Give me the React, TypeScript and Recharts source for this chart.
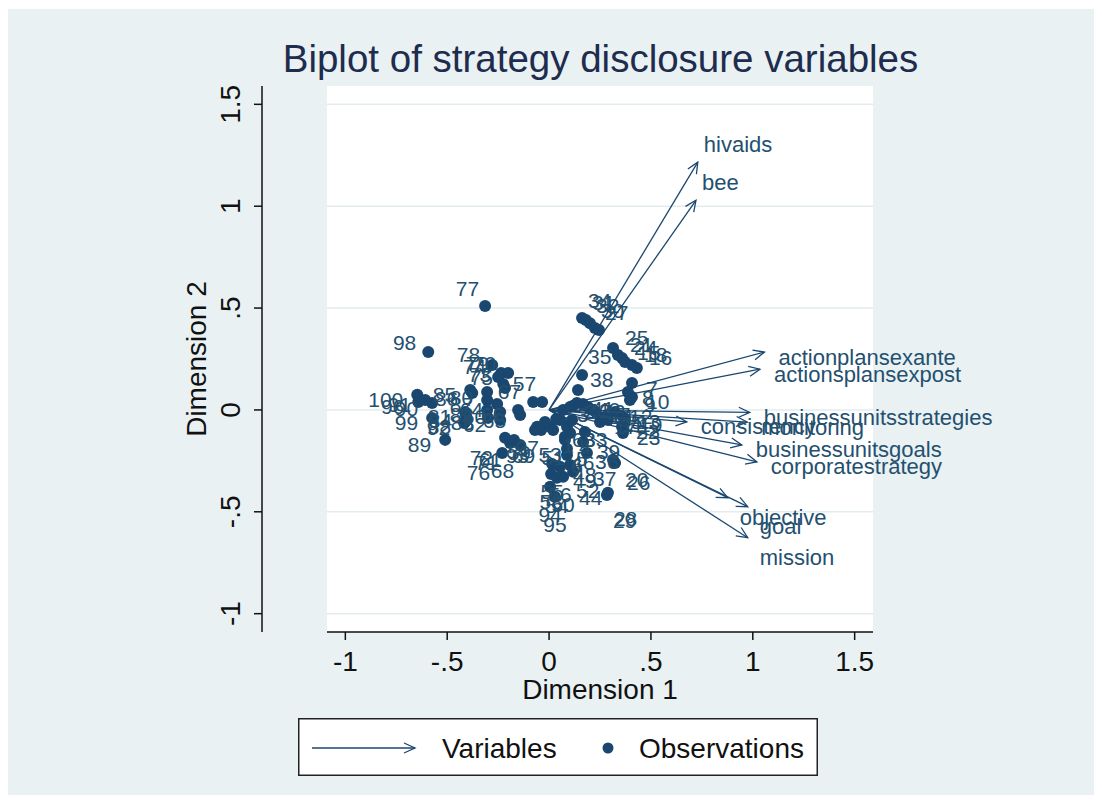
import React from 'react';
import { ScatterChart, Scatter, XAxis, YAxis, CartesianGrid, Legend } from 'recharts';

// ---------- data ----------
const obsLabels = [
  77, 98, 100, 96, 90, 99, 89, 88, 81, 84,
  85, 86, 80, 87, 82, 83, 60, 62, 64, 78,
  70, 74, 79, 75, 73, 66, 65, 67, 57, 72,
  71, 76, 68, 61, 59, 69, 97, 53, 51, 40,
  41, 2, 3, 4, 5, 6, 42, 43, 45, 47,
  33, 39, 36, 37, 46, 48, 49, 55, 56, 52,
  58, 54, 50, 44, 94, 95, 26, 20, 28, 29,
  34, 31, 32, 30, 27, 25, 21, 24, 15, 18,
  16, 35, 38, 7, 8, 9, 10, 13, 19, 22,
  23, 11, 12, 14, 17, 91, 92, 93, 63, 1,
];
const obsDim1 = [
  -0.314, -0.593, -0.647, -0.642, -0.574, -0.574, -0.510, -0.412, -0.412, -0.407,
  -0.387, -0.377, -0.304, -0.304, -0.304, -0.299, -0.240, -0.240, -0.255, -0.279,
  -0.201, -0.250, -0.235, -0.216, -0.225, -0.152, -0.142, -0.078, -0.034, -0.216,
  -0.191, -0.230, -0.142, -0.172, -0.059, -0.039, -0.020, 0.005, 0.020, 0.167,
  0.137, 0.103, 0.069, 0.088, 0.103, 0.078, 0.118, 0.191, 0.275, 0.216,
  0.113, 0.176, 0.167, 0.186, 0.078, 0.088, 0.088, 0.015, 0.054, 0.103,
  0.010, 0.039, 0.069, 0.118, 0.005, 0.029, 0.324, 0.314, 0.289, 0.284,
  0.162, 0.181, 0.201, 0.225, 0.245, 0.314, 0.338, 0.358, 0.373, 0.407,
  0.431, 0.162, 0.142, 0.407, 0.387, 0.397, 0.407, 0.363, 0.373, 0.358,
  0.363, 0.289, 0.324, 0.230, 0.250, -0.608, -0.417, -0.069, 0.054, 0.035,
];
const obsDim2 = [
  0.510, 0.284, 0.074, 0.039, 0.034, -0.039, -0.147, -0.059, -0.010, -0.029,
  0.098, 0.083, 0.088, 0.049, 0.000, -0.039, -0.010, -0.049, 0.029, 0.221,
  0.181, 0.162, 0.181, 0.108, 0.127, 0.000, -0.025, 0.039, 0.039, -0.137,
  -0.162, -0.211, -0.172, -0.147, -0.083, -0.098, -0.059, -0.083, -0.098, 0.029,
  0.034, 0.015, 0.000, -0.083, -0.113, -0.147, 0.020, 0.015, -0.034, 0.000,
  -0.049, -0.108, -0.157, -0.211, -0.132, -0.191, -0.221, -0.265, -0.279, -0.270,
  -0.314, -0.333, -0.328, -0.304, -0.377, -0.426, -0.260, -0.245, -0.407, -0.417,
  0.451, 0.441, 0.426, 0.402, 0.392, 0.304, 0.270, 0.255, 0.235, 0.221,
  0.206, 0.172, 0.098, 0.132, 0.088, 0.049, 0.064, -0.034, -0.049, -0.083,
  -0.113, -0.049, -0.010, -0.010, -0.059, 0.049, -0.064, -0.098, -0.049, -0.045,
];

const varNames = [
  'hivaids', 'bee', 'actionplansexante', 'actionsplansexpost', 'businessunitsstrategies',
  'monitoring', 'consistency', 'businessunitsgoals', 'corporatestrategy',
  'objective', 'goal', 'mission',
];
const varDim1 = [0.730, 0.721, 1.057, 1.035, 0.985, 0.973, 0.676, 0.946, 1.020, 0.877, 0.975, 0.975];
const varDim2 = [1.216, 1.029, 0.284, 0.200, -0.012, -0.060, -0.059, -0.172, -0.255, -0.431, -0.475, -0.627];

const xTicks = [-1, -0.5, 0, 0.5, 1, 1.5];
const yTicks = [-1, -0.5, 0, 0.5, 1, 1.5];
const DOMAIN: [number, number] = [-1.09, 1.59];

const obsData = obsLabels.map((l, i) => ({ x: obsDim1[i], y: obsDim2[i], label: String(l) }));
const varData = varNames.map((n, i) => ({ x: varDim1[i], y: varDim2[i], label: n }));

// ---------- layout / style ----------
const W = 1102;
const H = 803;
const PL = 327, PR = 873, PT = 86, PB = 632;
const YAXW = 60, XAXH = 60;
const KX = (PR - PL) / (DOMAIN[1] - DOMAIN[0]);
const KY = (PB - PT) / (DOMAIN[1] - DOMAIN[0]);
const NAVY = '#1a476f';
const TXT = '#24506f';
const FONT = '"Liberation Sans", Arial, sans-serif';
const BG = '#e9f1f3';

const fmt = (v: number) => {
  if (v === 0) return '0';
  const a = Math.abs(v);
  const s = a < 1 ? String(a).replace(/^0/, '') : String(a);
  return (v < 0 ? '-' : '') + s;
};

// label placement by clock position (direction from the origin)
const OFF: Record<number, [number, number]> = {
  12: [0, -20], 1: [6, -18], 2: [12, -10], 3: [14, 5], 4: [12, 20], 5: [6, 26],
  6: [0, 28], 7: [-6, 26], 8: [-12, 20], 9: [-14, 5], 10: [-12, -10], 11: [-6, -18],
};
const clockOf = (dx: number, dy: number) => {
  const ang = (Math.atan2(dy, dx) * 180) / Math.PI;
  if (Math.abs(ang) <= 22.5) return 3;
  if (Math.abs(ang) >= 157.5) return 9;
  let c = Math.round(3 - ang / 30);
  c = ((c % 12) + 12) % 12;
  return c === 0 ? 12 : c;
};
const makeLabel = (size: number) => ({ cx, cy, payload }: any) => {
  const c = clockOf(payload.x * KX, payload.y * KY);
  const [dx, dy] = OFF[c];
  const anchor = c === 12 || c === 6 ? 'middle' : c < 6 ? 'start' : 'end';
  return (
    <text x={cx + dx} y={cy + dy} textAnchor={anchor} dominantBaseline="central"
      fontFamily={FONT} fontSize={size} fill={TXT}>{payload.label}</text>
  );
};
const ObsLabel = makeLabel(21);
const VarLabel = makeLabel(22);

const ObsMarker = ({ cx, cy }: any) => <circle cx={cx} cy={cy} r={6} fill={NAVY} />;

const ArrowShape = ({ cx, cy, payload }: any) => {
  const ox = cx - payload.x * KX;
  const oy = cy + payload.y * KY;
  const dx = cx - ox, dy = cy - oy;
  const len = Math.sqrt(dx * dx + dy * dy);
  const ux = dx / len, uy = dy / len;
  const L = 11, Wd = 5;
  const b1 = `${cx - L * ux - Wd * uy},${cy - L * uy + Wd * ux}`;
  const b2 = `${cx - L * ux + Wd * uy},${cy - L * uy - Wd * ux}`;
  return (
    <g>
      <line x1={ox} y1={oy} x2={cx} y2={cy} stroke={NAVY} strokeWidth={1.3} />
      <polyline points={`${b1} ${cx},${cy} ${b2}`} fill="none" stroke={NAVY} strokeWidth={1.3} />
    </g>
  );
};

const XTick = ({ x, payload }: any) => (
  <g>
    <line x1={x} y1={PB} x2={x} y2={PB + 8} stroke="#111" strokeWidth={1.5} />
    <text x={x} y={PB + 39} textAnchor="middle" fontFamily={FONT} fontSize={28} fill="#111">{fmt(payload.value)}</text>
  </g>
);
const YAX = 262;
const YTick = ({ y, payload }: any) => (
  <g>
    <line x1={YAX - 8} y1={y} x2={YAX} y2={y} stroke="#111" strokeWidth={1.5} />
    <text x={YAX - 22} y={y} transform={`rotate(-90, ${YAX - 22}, ${y})`} textAnchor="middle"
      fontFamily={FONT} fontSize={28} fill="#111">{fmt(payload.value)}</text>
  </g>
);

const LegendBox = () => (
  <svg width={520} height={58} style={{ display: 'block' }}>
    <rect x={0.75} y={0.75} width={518.5} height={56.5} fill="#fff" stroke="#222" strokeWidth={1.5} />
    <line x1={14} y1={30} x2={117} y2={30} stroke={NAVY} strokeWidth={1.3} />
    <polyline points="106,25 117,30 106,35" fill="none" stroke={NAVY} strokeWidth={1.3} />
    <text x={144} y={30} dominantBaseline="central" fontFamily={FONT} fontSize={28} fill="#111">Variables</text>
    <circle cx={310} cy={30} r={5.5} fill={NAVY} />
    <text x={341} y={30} dominantBaseline="central" fontFamily={FONT} fontSize={28} fill="#111">Observations</text>
  </svg>
);

export default function App() {
  return (
    <div style={{ position: 'absolute', left: 0, top: 0, width: W, height: H, background: '#fff', overflow: 'hidden' }}>
      <div style={{ position: 'absolute', left: 8, top: 9, width: W - 16, height: H - 17, background: BG }} />
      <div style={{
        position: 'absolute', left: 0, top: 40, width: 1201, textAlign: 'center',
        fontFamily: FONT, fontSize: 38.5, lineHeight: '38px', color: '#1e2c4e', whiteSpace: 'nowrap',
      }}>Biplot of strategy disclosure variables</div>
      <div style={{ position: 'absolute', left: 0, top: 0 }}>
        <ScatterChart width={W} height={H}
          margin={{ top: PT, right: W - PR, bottom: H - PB - XAXH, left: PL - YAXW }}>
          <CartesianGrid vertical={false} fill="#fff" stroke="#e3ecef" strokeWidth={1.5} horizontalValues={yTicks} />
          <XAxis type="number" dataKey="x" domain={DOMAIN} ticks={xTicks}
            height={XAXH} tickLine={false} tick={<XTick />} interval={0}
            axisLine={{ stroke: '#111', strokeWidth: 1.5 }}
            label={{
              content: (p: any) => (
                <text x={p.viewBox.x + p.viewBox.width / 2} y={PB + 67} textAnchor="middle"
                  fontFamily={FONT} fontSize={28} fill="#111">Dimension 1</text>
              ),
            }} />
          <YAxis type="number" dataKey="y" domain={DOMAIN} ticks={yTicks}
            width={YAXW} tickLine={false} tick={<YTick />} interval={0}
            axisLine={{ stroke: '#111', strokeWidth: 1.5, transform: `translate(${YAX - PL},0)` }}
            label={{
              content: (p: any) => {
                const cy = p.viewBox.y + p.viewBox.height / 2;
                return (
                  <text x={206} y={cy} transform={`rotate(-90, 206, ${cy})`} textAnchor="middle"
                    fontFamily={FONT} fontSize={28} fill="#111">Dimension 2</text>
                );
              },
            }} />
          <Scatter name="Observations" data={obsData} shape={<ObsMarker />} isAnimationActive={false} />
          <Scatter name="obslabels" data={obsData} shape={<ObsLabel />} isAnimationActive={false} legendType="none" />
          <Scatter name="Variables" data={varData} shape={<ArrowShape />} isAnimationActive={false} />
          <Scatter name="varlabels" data={varData} shape={<VarLabel />} isAnimationActive={false} legendType="none" />
          <Legend verticalAlign="middle" align="center" layout="horizontal"
            wrapperStyle={{ left: 298, top: 718, width: 520, height: 58 }}
            content={() => <LegendBox />} />
        </ScatterChart>
      </div>
    </div>
  );
}
